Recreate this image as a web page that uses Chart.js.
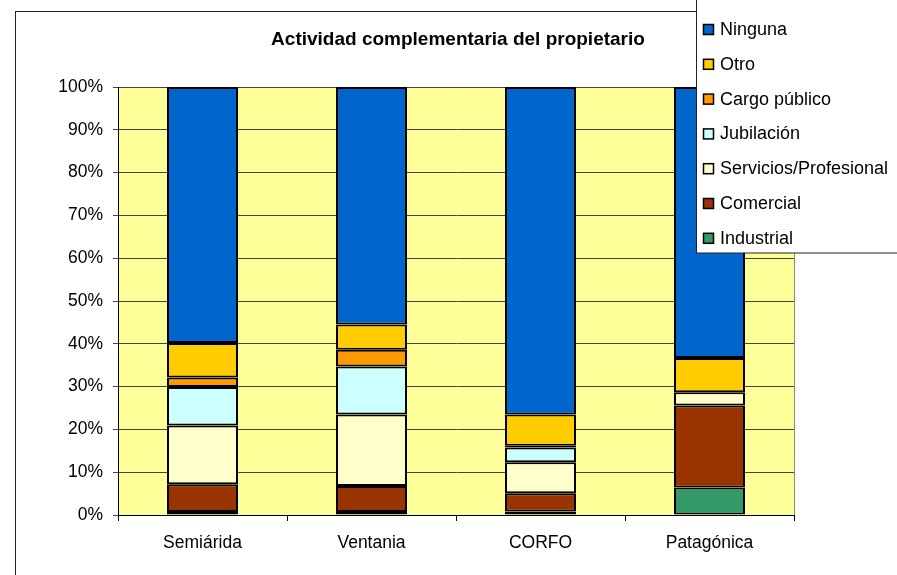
<!DOCTYPE html>
<html>
<head>
<meta charset="utf-8">
<script src="https://cdn.jsdelivr.net/npm/chart.js@4"></script>
<style>
  body { margin: 0; background: #fff; }
  #wrap { position: relative; width: 897px; height: 575px; overflow: hidden; }
</style>
</head>
<body>
<div id="wrap"><canvas id="chart" width="897" height="575"></canvas></div>
<script>
// Data (percent of owners per region)
const categories = ['Semiárida', 'Ventania', 'CORFO', 'Patagónica'];
const industrial = [0.7, 0.7, 0.8, 6.4];
const comercial = [6.5, 6.1, 4.3, 19.2];
const servicios = [13.7, 16.7, 7.2, 3.1];
const jubilacion = [9.0, 11.2, 3.5, 0];
const cargo = [2.2, 3.9, 0.4, 0];
const otro = [8.1, 5.9, 7.3, 8.0];
const ninguna = [59.8, 55.5, 76.5, 63.3];
const yTicks = [0, 10, 20, 30, 40, 50, 60, 70, 80, 90, 100];

const FONT = '"Liberation Sans", Arial, sans-serif';

function ds(label, data, color) {
  return {
    label: label,
    data: data,
    backgroundColor: color,
    borderColor: '#000',
    borderWidth: 2,
    borderSkipped: false,
    barPercentage: 0.42,
    categoryPercentage: 1
  };
}

// Plot background, frame, title and legend
const decor = {
  id: 'decor',
  beforeDraw(chart) {
    const { ctx, chartArea: a } = chart;
    ctx.save();
    ctx.fillStyle = '#fff';
    ctx.fillRect(0, 0, chart.width, chart.height);
    ctx.strokeStyle = '#222';
    ctx.lineWidth = 1;
    ctx.strokeRect(15.5, 11.5, 1200, 1200);
    ctx.fillStyle = '#FFFF99';
    ctx.fillRect(a.left, a.top, a.right - a.left, a.bottom - a.top);
    ctx.strokeStyle = '#888';
    ctx.strokeRect(a.left + 0.5, a.top + 0.5, a.right - a.left, a.bottom - a.top);
    ctx.fillStyle = '#000';
    ctx.font = 'bold 19px ' + FONT;
    ctx.textAlign = 'center';
    ctx.textBaseline = 'middle';
    ctx.fillText('Actividad complementaria del propietario', 458, 40);
    ctx.restore();
  },
  afterDraw(chart) {
    const { ctx } = chart;
    ctx.save();
    ctx.fillStyle = '#fff';
    ctx.fillRect(696, -2, 210, 255);
    ctx.strokeStyle = '#222';
    ctx.lineWidth = 1;
    ctx.strokeRect(696.5, -2, 220, 255);
    ctx.font = '18px ' + FONT;
    ctx.textAlign = 'left';
    ctx.textBaseline = 'middle';
    const items = chart.data.datasets.slice().reverse();
    items.forEach((d, i) => {
      const y = 29 + i * 34.8;
      ctx.fillStyle = d.backgroundColor;
      ctx.fillRect(703, y - 4, 10, 10);
      ctx.strokeStyle = '#000';
      ctx.lineWidth = 1.5;
      ctx.strokeRect(703.5, y - 4.5, 10, 10);
      ctx.fillStyle = '#000';
      ctx.fillText(d.label, 720, y + 1);
    });
    ctx.restore();
  }
};

new Chart(document.getElementById('chart'), {
  type: 'bar',
  data: {
    labels: categories,
    datasets: [
      ds('Industrial', industrial, '#339966'),
      ds('Comercial', comercial, '#993300'),
      ds('Servicios/Profesional', servicios, '#FFFFCC'),
      ds('Jubilación', jubilacion, '#CCFFFF'),
      ds('Cargo público', cargo, '#FF9900'),
      ds('Otro', otro, '#FFCC00'),
      ds('Ninguna', ninguna, '#0066CC')
    ]
  },
  options: {
    responsive: false,
    animation: false,
    layout: { padding: { top: 87, right: 103, bottom: 0, left: 0 } },
    plugins: {
      legend: { display: false },
      title: { display: false },
      tooltip: { enabled: false }
    },
    scales: {
      x: {
        stacked: true,
        afterFit(scale) { scale.height = 60; },
        grid: { drawOnChartArea: false, drawTicks: true, tickLength: 6, color: '#000' },
        border: { color: '#000', width: 1 },
        ticks: { color: '#000', font: { family: FONT, size: 17.5 }, padding: 12 }
      },
      y: {
        stacked: true,
        min: 0,
        max: 100,
        afterFit(scale) { scale.width = 118; },
        afterBuildTicks(scale) { scale.ticks = yTicks.map(v => ({ value: v })); },
        grid: { color: '#444', lineWidth: 1, tickLength: 5, drawTicks: true },
        border: { color: '#000', width: 1 },
        ticks: {
          color: '#000',
          font: { family: FONT, size: 17.5 },
          padding: 10,
          callback: v => v + '%'
        }
      }
    }
  },
  plugins: [decor]
});
</script>
</body>
</html>
